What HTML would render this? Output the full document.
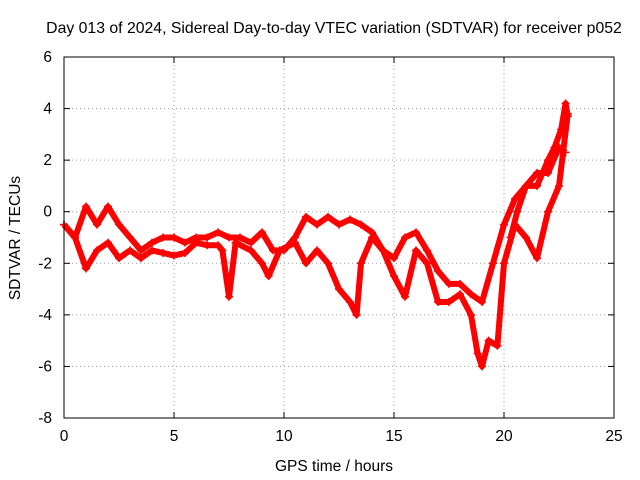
<!DOCTYPE html>
<html><head><meta charset="utf-8"><style>
body{margin:0;background:#fff}
svg{display:block;font-family:"Liberation Sans",sans-serif}
</style></head><body>
<svg id="chart" width="640" height="480">
<rect width="640" height="480" fill="#fff"/>
<text x="334" y="33" text-anchor="middle" font-size="15.8">Day 013 of 2024, Sidereal Day-to-day VTEC variation (SDTVAR) for receiver p052</text>
<g id="grid"></g><g id="series"></g><g id="axes"></g>
<text x="334" y="471" text-anchor="middle" font-size="15.5">GPS time / hours</text>
<text x="20" y="238" text-anchor="middle" font-size="15.5" transform="rotate(-90 20 238)">SDTVAR / TECUs</text>
</svg>
<script>
const xTicks=[0,5,10,15,20,25];
const yTicks=[-8,-6,-4,-2,0,2,4,6];
const trackAT=[0,0.5,1,1.5,2,2.5,3,3.5,4,4.5,5,5.5,6,6.5,7,7.5,8,8.5,9,9.5,10,10.5,11,11.5,12,12.5,13,13.5,14,14.5,15,15.5,16,16.5,17,17.5,18,18.5,19,19.5,20,20.5,21,21.5,22,22.5,22.8];
const trackAV=[-0.5,-1,0.2,-0.5,0.2,-0.5,-1,-1.5,-1.2,-1,-1,-1.2,-1,-1,-0.8,-1,-1,-1.2,-0.8,-1.5,-1.5,-1,-0.2,-0.5,-0.2,-0.5,-0.3,-0.5,-0.8,-1.5,-1.8,-1,-0.8,-1.5,-2.3,-2.8,-2.8,-3.2,-3.5,-2,-0.5,0.5,1,1.5,1.5,2.5,2.3];
const trackBT=[0,0.5,1,1.5,2,2.5,3,3.5,4,4.5,5,5.5,6,6.5,7,7.2,7.5,7.8,8.5,9,9.3,9.8,10.5,11,11.5,12,12.5,13,13.3,13.5,14,14.5,15,15.5,16,16.5,17,17.5,18,18.5,18.8,19,19.3,19.7,20,20.5,21,21.5,22,22.5,22.9];
const trackBV=[-0.5,-1,-2.2,-1.5,-1.2,-1.8,-1.5,-1.8,-1.5,-1.6,-1.7,-1.6,-1.2,-1.3,-1.3,-1.5,-3.3,-1.2,-1.5,-2,-2.5,-1.5,-1.2,-2,-1.5,-2,-3,-3.5,-4,-2,-1,-1.5,-2.5,-3.3,-1.5,-2,-3.5,-3.5,-3.2,-4,-5.5,-6,-5,-5.2,-2,-0.5,-1,-1.8,0,1,3.8];
const trackCT=[20.3,20.6,21,21.5,22,22.3,22.6,22.8,22.9];
const trackCV=[-1,0,1,1,2,2.5,3.2,4.2,3.7];
const X0=64,X1=614,Y0=418,Y1=57;
const xs=t=>X0+(t-0)/(25-0)*(X1-X0);
const ys=v=>Y0-(v+8)/(14)*(Y0-Y1);
const NS="http://www.w3.org/2000/svg";
const grid=document.getElementById('grid'),axes=document.getElementById('axes'),ser=document.getElementById('series');
function mk(tag,attrs,parent){const e=document.createElementNS(NS,tag);for(const k in attrs)e.setAttribute(k,attrs[k]);parent.appendChild(e);return e;}
xTicks.forEach(t=>{const x=xs(t);
 if(t>0&&t<25){const g=mk('line',{x1:x,x2:x,y1:Y0,y2:Y1,stroke:'#a0a0a0','stroke-dasharray':'1,3'},grid);
 
 }
 mk('line',{x1:x,x2:x,y1:Y0,y2:Y0-6,stroke:'#000'},axes);mk('line',{x1:x,x2:x,y1:Y1,y2:Y1+6,stroke:'#000'},axes);
 const l=mk('text',{x:x,y:Y0+23,'text-anchor':'middle','font-size':15.5},axes);l.textContent=t;
 
 });
yTicks.forEach(v=>{const y=ys(v);
 if(v>-8&&v<6){const g=mk('line',{x1:X0,x2:X1,y1:y,y2:y,stroke:'#a0a0a0','stroke-dasharray':'1,3'},grid);
 
 }
 mk('line',{x1:X0,x2:X0+6,y1:y,y2:y,stroke:'#000'},axes);mk('line',{x1:X1,x2:X1-6,y1:y,y2:y,stroke:'#000'},axes);
 const l=mk('text',{x:X0-12,y:y+5,'text-anchor':'end','font-size':15.5},axes);l.textContent=v;
 
 });
const fr=mk('rect',{x:X0,y:Y1,width:X1-X0,height:Y0-Y1,fill:'none',stroke:'#000'},axes);


function track(T,V,name){
 const g=mk('g',{},ser);
 
 
 mk('polyline',{points:T.map((t,i)=>xs(t)+','+ys(V[i])).join(' '),fill:'none',stroke:'#f00','stroke-width':6,'stroke-linejoin':'round'},g);
 T.forEach((t,i)=>{const x=xs(t),y=ys(V[i]);
  const p=mk('path',{d:`M${x-4},${y}h8M${x},${y-4}v8`,stroke:'#f00','stroke-width':1.5},g);
  
  });
}
track(trackAT,trackAV,'series-track-a');
track(trackBT,trackBV,'series-track-b');
track(trackCT,trackCV,'series-track-c');
</script>
</body></html>
